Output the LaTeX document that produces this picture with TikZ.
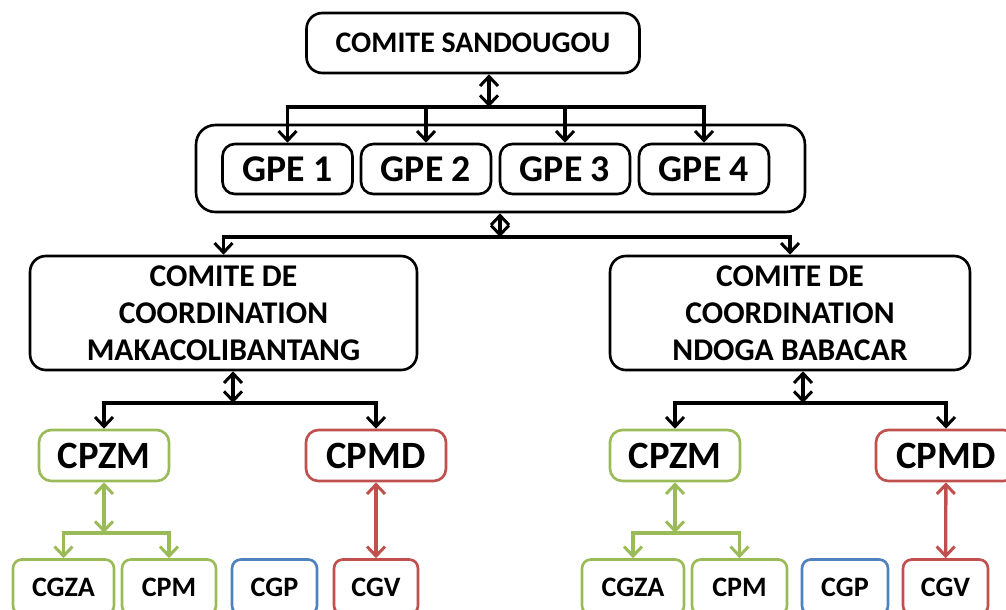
\documentclass[tikz,border=0pt]{standalone}
\usepackage{fontspec}
\setmainfont{Carlito}
\usepackage{xcolor}
\usetikzlibrary{arrows.meta}

\definecolor{vert}{HTML}{9BBB59}
\definecolor{rouge}{HTML}{C0504D}
\definecolor{bleu}{HTML}{4F81BD}

\tikzset{
  cadre/.style={draw,rounded corners=9pt,line width=1.5pt,align=center,inner sep=0pt},
  noir/.style={cadre,draw=black},
  petit/.style={cadre,rounded corners=5pt,line width=1.5pt,font=\bfseries\fontsize{16}{18}\selectfont},
  lien/.style={line width=1.9pt},
}

\begin{document}
\begin{tikzpicture}[x=0.02cm,y=-0.02cm,>={Straight Barb[length=1.9mm,width=3.6mm,line width=1.7pt]}]
    % page frame (bottom row is cut off)
    \clip (0,0) rectangle (1006,609);

    % level 1
    \node[noir,minimum width=6.66cm,minimum height=1.2cm,
          font=\bfseries\fontsize{17}{20}\selectfont] (sandougou) at (473,43) {COMITE SANDOUGOU};

    % level 2: GPE group
    \node[noir,rounded corners=11pt,minimum width=12.18cm,minimum height=1.74cm] (groupe) at (500.5,168.5) {};
    \foreach \i/\x in {1/287.5,2/426,3/565,4/704} {
        \node[noir,rounded corners=7pt,minimum width=2.6cm,minimum height=1.0cm,
              font=\bfseries\fontsize{21.5}{24}\selectfont] (gpe\i) at (\x,169) {GPE \i};
    }

    % level 3: coordination committees
    \node[noir,minimum width=7.74cm,minimum height=2.28cm,
          font=\bfseries\fontsize{18}{21}\selectfont] (makaco) at (223.5,313)
          {COMITE DE\\COORDINATION\\MAKACOLIBANTANG};
    \node[noir,minimum width=7.2cm,minimum height=2.28cm,
          font=\bfseries\fontsize{18}{21}\selectfont] (ndoga) at (790,313)
          {COMITE DE\\COORDINATION\\NDOGA BABACAR};

    % level 4
    \tikzset{moyen/.style={cadre,rounded corners=7pt,minimum height=1.02cm,
                           font=\bfseries\fontsize{22}{24}\selectfont}}
    \node[moyen,draw=vert,minimum width=2.6cm] (cpzmA) at (104,455.5) {CPZM};
    \node[moyen,draw=rouge,minimum width=2.8cm] (cpmdA) at (376,455.5) {CPMD};
    \node[moyen,draw=vert,minimum width=2.6cm] (cpzmB) at (675,455.5) {CPZM};
    \node[moyen,draw=rouge,minimum width=2.8cm] (cpmdB) at (946,455.5) {CPMD};

    % level 5
    \node[petit,draw=vert,minimum width=2.02cm,minimum height=1.1cm] (cgzaA) at (63.5,587) {CGZA};
    \node[petit,draw=vert,minimum width=1.88cm,minimum height=1.1cm] (cpmA) at (169,587) {CPM};
    \node[petit,draw=bleu,minimum width=1.7cm,minimum height=1.1cm] (cgpA) at (274.5,587) {CGP};
    \node[petit,draw=rouge,minimum width=1.68cm,minimum height=1.1cm] (cgvA) at (376,587) {CGV};
    \node[petit,draw=vert,minimum width=2.04cm,minimum height=1.1cm] (cgzaB) at (633,587) {CGZA};
    \node[petit,draw=vert,minimum width=1.9cm,minimum height=1.1cm] (cpmB) at (739.5,587) {CPM};
    \node[petit,draw=bleu,minimum width=1.72cm,minimum height=1.1cm] (cgpB) at (845,587) {CGP};
    \node[petit,draw=rouge,minimum width=1.7cm,minimum height=1.1cm] (cgvB) at (945.5,587) {CGV};

    % junctions
    \coordinate (j1) at (489,107);
    \coordinate (j2) at (500,237);
    \coordinate (j3) at (233,403);
    \coordinate (j4) at (803,403);
    \coordinate (j5) at (104,533);
    \coordinate (j6) at (675,533);

    % black connectors
    \draw[lien,<->] (sandougou.south -| j1) -- (j1);
    \foreach \i in {1,...,4} \draw[lien,->] (j1) -| (gpe\i.north);
    \draw[lien,<->] (groupe.south -| j2) -- (j2);
    \draw[lien,->] (j2) -| (makaco.north);
    \draw[lien,->] (j2) -| (ndoga.north);
    \draw[lien,<->] (makaco.south -| j3) -- (j3);
    \draw[lien,->] (j3) -| (cpzmA.north);
    \draw[lien,->] (j3) -| (cpmdA.north);
    \draw[lien,<->] (ndoga.south -| j4) -- (j4);
    \draw[lien,->] (j4) -| (cpzmB.north);
    \draw[lien,->] (j4) -| (cpmdB.north);

    % green connectors
    \draw[lien,vert,<->] (cpzmA.south) -- (j5);
    \draw[lien,vert,->] (j5) -| (cgzaA.north);
    \draw[lien,vert,->] (j5) -| (cpmA.north);
    \draw[lien,vert,<->] (cpzmB.south) -- (j6);
    \draw[lien,vert,->] (j6) -| (cgzaB.north);
    \draw[lien,vert,->] (j6) -| (cpmB.north);

    % red connectors
    \draw[lien,rouge,<->] (cpmdA) -- (cgvA);
    \draw[lien,rouge,<->] (cpmdB) -- (cgvB);
\end{tikzpicture}
\end{document}
